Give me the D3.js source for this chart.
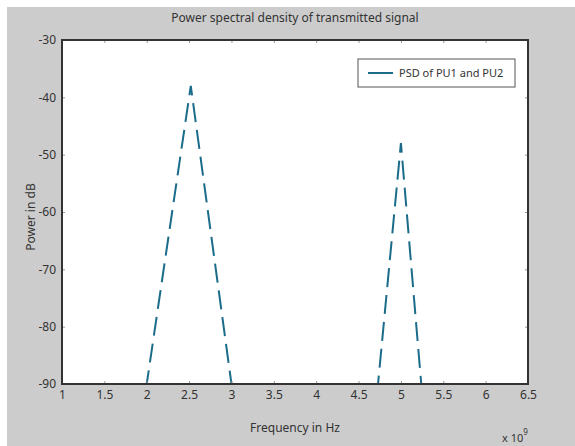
<!DOCTYPE html>
<html>
<head>
<meta charset="utf-8">
<script src="https://cdn.jsdelivr.net/npm/d3@7"></script>
<style>
  body { margin: 0; background: #fff; }
  text { font-family: "Noto Sans", "Open Sans", sans-serif; fill: #333; }
</style>
</head>
<body>
<div id="chart"></div>
<script>
// PSD traces (frequency in 1e9 Hz, power in dB)
var pu1Freq = [2.0, 2.52, 3.0],
    pu1Power = [-90, -38, -90];
var pu2Freq = [4.73, 5.0, 5.24],
    pu2Power = [-90, -48, -90];
var xTicks = [1, 1.5, 2, 2.5, 3, 3.5, 4, 4.5, 5, 5.5, 6, 6.5],
    yTicks = [-30, -40, -50, -60, -70, -80, -90];
var legendLabel = "PSD of PU1 and PU2";

var width = 575, height = 446;
var margin = {left: 62, right: 47, top: 40, bottom: 62};
var lineColor = "#1b6c8a";
var dash = 19, gap = 8;

var svg = d3.select("#chart").append("svg")
    .attr("width", width)
    .attr("height", height);

// figure background
svg.append("rect")
    .attr("x", 7).attr("y", 7)
    .attr("width", width - 7).attr("height", height - 7)
    .attr("fill", "#cccccc");

var x = d3.scaleLinear().domain([1, 6.5]).range([margin.left, width - margin.right]);
var y = d3.scaleLinear().domain([-90, -30]).range([height - margin.bottom, margin.top]);

var pw = x.range()[1] - x.range()[0],
    ph = y.range()[0] - y.range()[1];

svg.append("rect")
    .attr("x", margin.left).attr("y", margin.top)
    .attr("width", pw).attr("height", ph)
    .attr("fill", "#fff");

svg.append("clipPath").attr("id", "clip")
  .append("rect")
    .attr("x", margin.left).attr("y", margin.top)
    .attr("width", pw).attr("height", ph);

var line = d3.line()
    .x(function(d) { return x(d[0]); })
    .y(function(d) { return y(d[1]); });

var series = [d3.zip(pu1Freq, pu1Power), d3.zip(pu2Freq, pu2Power)];

// shift the dash pattern so a dash sits across each peak
function peakOffset(d) {
  var l1 = Math.hypot(x(d[1][0]) - x(d[0][0]), y(d[1][1]) - y(d[0][1]));
  var p = dash + gap;
  return ((dash / 2 - l1) % p + p) % p;
}

svg.append("g").attr("clip-path", "url(#clip)")
  .selectAll(".psd")
    .data(series)
  .enter().append("path")
    .attr("class", "psd")
    .attr("d", line)
    .attr("fill", "none")
    .attr("stroke", lineColor)
    .attr("stroke-width", 2)
    .attr("stroke-dasharray", dash + "," + gap)
    .attr("stroke-dashoffset", peakOffset)
    .attr("stroke-linejoin", "miter");

// axes, ticks inside on all four sides
function styleAxis(g) {
  g.select(".domain").remove();
  g.selectAll(".tick line").attr("stroke", "#999");
  g.selectAll(".tick text").attr("font-size", 12).attr("fill", "#333");
}

var fmt = function(d) { return String(d); };

svg.append("g")
    .attr("transform", "translate(0," + y(-90) + ")")
    .call(d3.axisBottom(x).tickValues(xTicks).tickSizeInner(-3).tickSizeOuter(0).tickPadding(6).tickFormat(fmt))
    .call(styleAxis);

svg.append("g")
    .attr("transform", "translate(0," + y(-30) + ")")
    .call(d3.axisTop(x).tickValues(xTicks).tickSizeInner(-3).tickSizeOuter(0).tickFormat(""))
    .call(styleAxis);

svg.append("g")
    .attr("transform", "translate(" + x(1) + ",0)")
    .call(d3.axisLeft(y).tickValues(yTicks).tickSizeInner(-3).tickSizeOuter(0).tickPadding(6).tickFormat(fmt))
    .call(styleAxis);

svg.append("g")
    .attr("transform", "translate(" + x(6.5) + ",0)")
    .call(d3.axisRight(y).tickValues(yTicks).tickSizeInner(-3).tickSizeOuter(0).tickFormat(""))
    .call(styleAxis);

// frame on top
svg.append("rect")
    .attr("x", margin.left).attr("y", margin.top)
    .attr("width", pw).attr("height", ph)
    .attr("fill", "none")
    .attr("stroke", "#333")
    .attr("stroke-width", 2);

// legend
var lg = svg.append("g").attr("transform", "translate(358,59)");
lg.append("rect")
    .attr("width", 157).attr("height", 28)
    .attr("fill", "#fff")
    .attr("stroke", "#555")
    .attr("stroke-width", 1);
lg.append("line")
    .attr("x1", 10).attr("x2", 35)
    .attr("y1", 14).attr("y2", 14)
    .attr("stroke", lineColor)
    .attr("stroke-width", 2);
lg.append("text")
    .attr("x", 41).attr("y", 18)
    .attr("font-size", 11)
    .text(legendLabel);

// titles
svg.append("text")
    .attr("x", (margin.left + width - margin.right) / 2)
    .attr("y", 22)
    .attr("text-anchor", "middle")
    .attr("font-size", 12)
    .text("Power spectral density of transmitted signal");

svg.append("text")
    .attr("x", (margin.left + width - margin.right) / 2)
    .attr("y", 432)
    .attr("text-anchor", "middle")
    .attr("font-size", 12)
    .text("Frequency in Hz");

svg.append("text")
    .attr("transform", "translate(35," + (margin.top + ph / 2 + 5) + ")rotate(-90)")
    .attr("text-anchor", "middle")
    .attr("font-size", 12)
    .text("Power in dB");

var exp = svg.append("text")
    .attr("x", 502).attr("y", 442)
    .attr("font-size", 11);
exp.append("tspan").text("x 10");
exp.append("tspan").attr("dy", -7).attr("font-size", 8).text("9");
</script>
</body>
</html>
